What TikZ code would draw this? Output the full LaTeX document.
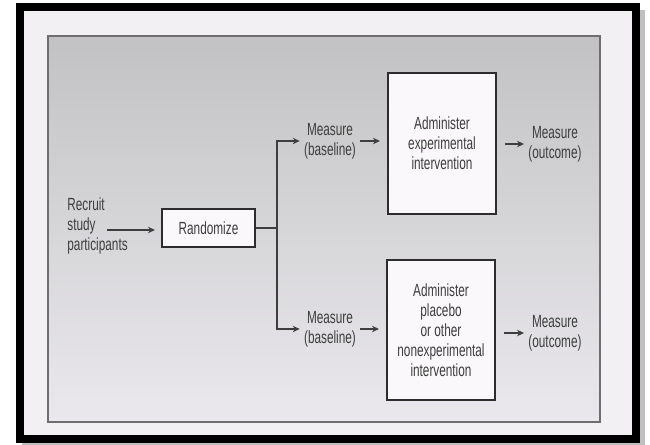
\documentclass[tikz,border=0pt]{standalone}
\usepackage{fontspec}
\setmainfont[FakeStretch=0.67]{Liberation Sans}
\usepackage{xcolor}
\usepackage{tikz}
\usetikzlibrary{arrows.meta,positioning,calc}
\definecolor{ink}{RGB}{62,62,62}
\definecolor{boxline}{RGB}{45,45,45}
\definecolor{boxfill}{RGB}{250,248,250}
\definecolor{pagebg}{RGB}{243,240,244}
\definecolor{sheettop}{RGB}{194,194,196}
\definecolor{sheetbottom}{RGB}{234,232,236}
\definecolor{sheetline}{RGB}{110,110,110}

\tikzset{
    note/.style={text=ink, align=center, inner sep=2pt,
        font=\fontsize{8.8}{10}\selectfont},
    stagebox/.style={note, draw=boxline, line width=1pt, fill=boxfill},
    flow/.style={-{Stealth[length=3.5pt,width=3.2pt]}, draw=ink, line width=0.55pt},
    wire/.style={draw=ink, line width=0.55pt}
}

\begin{document}
\begin{tikzpicture}[x=0.5pt,y=-0.5pt]
    \useasboundingbox (0,0) rectangle (650,445);
    % photo frame and sheet
    \fill[black!25] (22,10) rectangle (645,445);
    \fill[pagebg] (20,7) rectangle (636,438.5);
    \draw[line width=4pt] (20,7) rectangle (636,438.5);
    \shade[top color=sheettop, bottom color=sheetbottom, draw=sheetline, line width=0.6pt]
        (48,36) rectangle (600,422);
    % nodes
    \node[note, align=left, anchor=west] (recruit) at (63,226) {Recruit\\study\\participants};
    \node[stagebox, minimum width=46.5pt, minimum height=19pt] (random) at (208.5,228) {Randomize};
    \coordinate (rstart) at (107,230);
    \coordinate (split) at (277,228);
    \node[note] (mtop) at (330,141) {Measure\\(baseline)};
    \node[stagebox, minimum width=54pt, minimum height=70.5pt] (exptop) at (442,143.5)
        {Administer\\experimental\\intervention};
    \node[note] (otop) at (555,144) {Measure\\(outcome)};
    \node[note] (mbot) at (330,329) {Measure\\(baseline)};
    \node[stagebox, minimum width=54pt, minimum height=70pt] (expbot) at (441,330)
        {Administer\\placebo\\or other\\nonexperimental\\intervention};
    \node[note] (obot) at (555,333) {Measure\\(outcome)};
    % connectors
    \draw[flow, shorten >=3pt] (rstart) -- (random.west |- rstart);
    \draw[wire] (random.east) -- (split);
    \draw[flow] (split) |- (mtop.west);
    \draw[flow] (split) |- (mbot.west);
    \draw[flow, shorten >=3.5pt] (mtop.east) -- (mtop.east -| exptop.west);
    \draw[flow, shorten >=3.5pt] (mbot.east) -- (mbot.east -| expbot.west);
    \draw[flow, shorten <=4pt] (exptop.east |- otop.west) -- (otop.west);
    \draw[flow, shorten <=4pt] (expbot.east |- obot.west) -- (obot.west);
\end{tikzpicture}
\end{document}
